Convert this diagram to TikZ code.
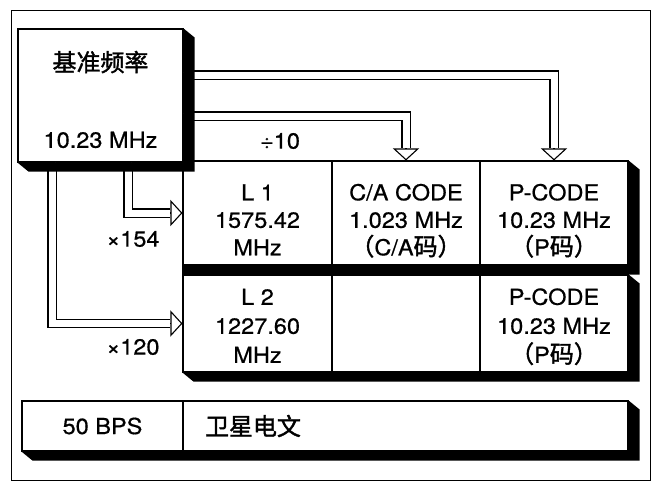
\documentclass[tikz,border=0pt]{standalone}
\usepackage{fontspec}
\setmainfont{TeX Gyre Heros}[FakeStretch=1.07, FakeBold=0.6]
\newfontfamily\cjk{Noto Sans CJK SC}[Scale=1.09, FakeBold=1.6]
\usetikzlibrary{arrows.meta}

% black extrusion on the right and under a box (or a row of boxes)
\newcommand\boxshade[2]{%
  \fill (#2.north east) -- ++(11,9) -- ([shift={(11,9)}]#2.south east)
    -- ([shift={(11,9)}]#1.south west) -- (#1.south west) -- (#2.south east) -- cycle;}
% three lines of a cell, with a fixed top strut so all cells line up
\newcommand\rows[4]{\rule{0pt}{#1}#2\\#3\\#4\rule[-5pt]{0pt}{5pt}}

\begin{document}
\begin{tikzpicture}[
    x=1pt, y=-1pt,
    font=\fontsize{22}{27.5}\selectfont,
    box/.style={
        rectangle, draw, line width=1.1pt, fill=white,
        inner sep=0pt, align=center
    },
    cell/.style={box, minimum width=148pt, minimum height=104pt},
    cellb/.style={box, minimum width=148pt, minimum height=97pt,
        font=\fontsize{22}{29}\selectfont},
    shaft/.style={double, double distance=7pt, line width=1.1pt, line join=miter},
    head/.style={-{Triangle[open, length=12pt, width=26pt]}, line width=1.1pt},
    lbl/.style={inner sep=0pt}
]
\useasboundingbox (0,0) rectangle (659,491);
\draw[line width=0.8pt] (11,10) rectangle (650,480);

% Reference oscillator
\node[box, minimum width=165pt, minimum height=133pt] (ref) at (100.5,95.5)
    {\rule{0pt}{33pt}{\cjk 基准频率}\\[49pt]10.23 MHz\rule[-5pt]{0pt}{5pt}};

% Row 1: L1 carrier
\node[cell, minimum width=149pt] (l1) at (257.5,213) {\rows{34.6pt}{L 1}{1575.42}{MHz}};
\node[cell] (ca) at (406,213) {\rows{34.6pt}{C/A CODE}{1.023 MHz}{{\cjk （}C/A{\cjk 码）}}};
\node[cell] (p1) at (554,213) {\rows{34.6pt}{P-CODE}{10.23 MHz}{{\cjk （}P{\cjk 码）}}};

% Row 2: L2 carrier
\node[cellb, minimum width=149pt] (l2) at (257.5,323.5) {\rows{25.6pt}{L 2}{1227.60}{MHz}};
\node[cellb] (none) at (406,323.5) {};
\node[cellb] (p2) at (554,323.5) {\rows{25.6pt}{P-CODE}{10.23 MHz}{{\cjk （}P{\cjk 码）}}};

% Row 3: navigation message
\node[box, minimum width=161pt, minimum height=50pt] (bps) at (102.5,426) {50 BPS};
\node[box, text width=401pt, inner xsep=22pt, minimum height=50pt, align=left]
    (msg) at (405.5,426) {{\cjk 卫星电文}};

% Hollow arrows
\draw[shaft] ([yshift=20.5pt]ref.east) -| ([yshift=12pt]p1.north);
\draw[head] ([yshift=12pt]p1.north) -- (p1.north);
\draw[shaft] ([yshift=-20.5pt]ref.east) -| ([yshift=12pt]ca.north);
\draw[head] ([yshift=12pt]ca.north) -- (ca.north);
\draw[shaft] ([xshift=27.5pt]ref.south) |- ([xshift=-12pt]l1.west);
\draw[head] ([xshift=-12pt]l1.west) -- (l1.west);
\draw[shaft] ([xshift=-48.5pt]ref.south) |- ([xshift=-12pt]l2.west);
\draw[head] ([xshift=-12pt]l2.west) -- (l2.west);

\node[lbl] (div) at (280,141) {÷10};
\node[lbl] (m154) at (133,239) {×154};
\node[lbl] (m120) at (133,347) {×120};

% Shadows
\boxshade{ref}{ref}
\boxshade{l1}{p1}
\fill (l1.south west) rectangle (p2.north east);
\boxshade{l2}{p2}
\boxshade{bps}{msg}

\end{tikzpicture}
\end{document}
